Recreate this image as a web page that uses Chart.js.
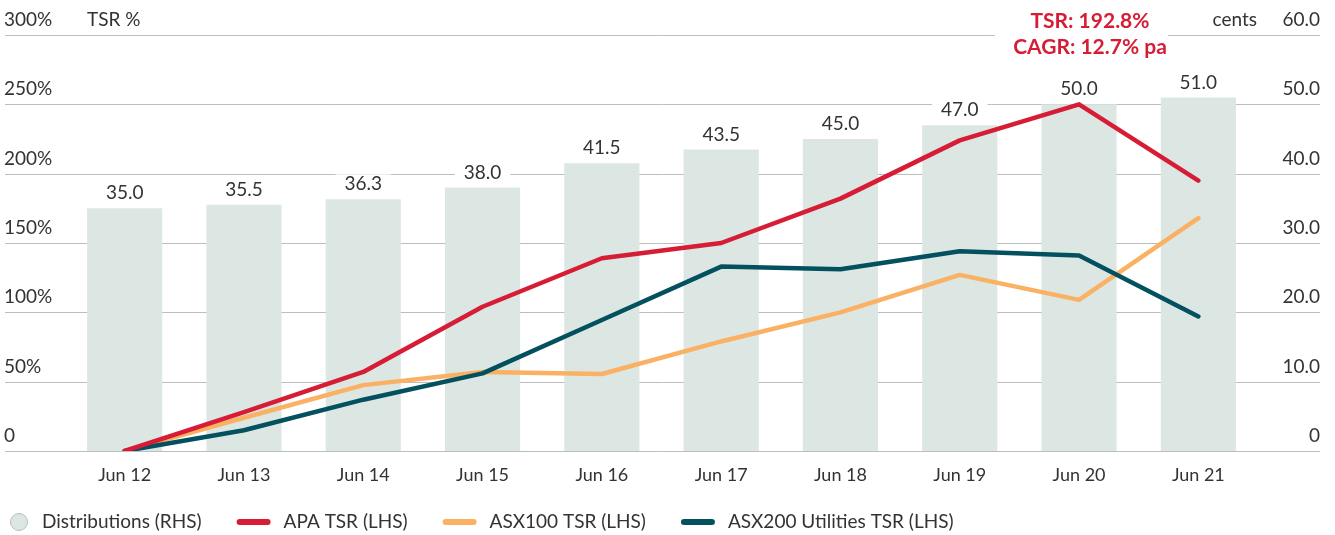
<!DOCTYPE html>
<html>
<head>
<meta charset="utf-8">
<script src="https://cdn.jsdelivr.net/npm/chart.js@4/dist/chart.umd.min.js"></script>
<style>
  html, body { margin: 0; padding: 0; background: #fff; }
  #wrap { width: 1335px; height: 535px; position: relative; }
</style>
</head>
<body>
<div id="wrap"><canvas id="tsrChart"></canvas></div>
<script>
const categories = ["Jun 12", "Jun 13", "Jun 14", "Jun 15", "Jun 16", "Jun 17", "Jun 18", "Jun 19", "Jun 20", "Jun 21"];
const distributions = [35.0, 35.5, 36.3, 38.0, 41.5, 43.5, 45.0, 47.0, 50.0, 51.0];
const apaTsr = [0, 28, 57, 104, 139, 150, 182, 224, 250, 195];
const asx100Tsr = [0, 24, 47.5, 57, 55.5, 79, 100, 127, 109, 168];
const asx200UtilitiesTsr = [0, 15, 37, 56, 94.5, 133, 131, 144, 141, 97];

const leftTicks = [0, 50, 100, 150, 200, 250, 300];
const leftTickLabels = ["0", "50%", "100%", "150%", "200%", "250%", "300%"];
const rightTicks = [0, 10, 20, 30, 40, 50, 60];
const rightTickLabels = ["0", "10.0", "20.0", "30.0", "40.0", "50.0", "60.0"];

const TEXT = "#333333";
const GRID = "#bdbdbd";
const RED = "#d71c35";
const ORANGE = "#fbb163";
const TEAL = "#03505e";
const BAR = "#dce7e4";
const FONT = "Lato, 'Open Sans', sans-serif";

const decorPlugin = {
    id: "decor",
    beforeDatasetsDraw(chart) {
        const { ctx, scales } = chart;
        const yL = scales.y;
        const yR = scales.y1;
        ctx.save();

        // full-width grid lines
        ctx.strokeStyle = GRID;
        ctx.lineWidth = 1;
        leftTicks.forEach((v) => {
            const py = Math.round(yL.getPixelForValue(v)) + 0.5;
            ctx.beginPath();
            ctx.moveTo(5, py);
            ctx.lineTo(1320, py);
            ctx.stroke();
        });

        // tick labels sit above their lines
        ctx.font = "19px " + FONT;
        ctx.fillStyle = TEXT;
        ctx.textBaseline = "middle";
        ctx.textAlign = "left";
        leftTicks.forEach((v, i) => {
            ctx.fillText(leftTickLabels[i], 4, yL.getPixelForValue(v) - 15);
        });
        ctx.textAlign = "right";
        rightTicks.forEach((v, i) => {
            ctx.fillText(rightTickLabels[i], 1320, yR.getPixelForValue(v) - 15);
        });
        const topY = yL.getPixelForValue(300);
        ctx.textAlign = "left";
        ctx.fillText("TSR %", 87, topY - 15);
        ctx.textAlign = "right";
        ctx.fillText("cents", 1257, topY - 15);

        // TSR / CAGR call-out
        ctx.fillStyle = "#fff";
        ctx.fillRect(995, topY - 8, 173, 16);
        ctx.fillStyle = RED;
        ctx.font = "bold 21px " + FONT;
        ctx.textAlign = "center";
        ctx.fillText("TSR: 192.8%", 1090, topY - 14);
        ctx.fillText("CAGR: 12.7% pa", 1090, topY + 12);

        // bar value labels
        const meta = chart.getDatasetMeta(3);
        ctx.font = "19px " + FONT;
        meta.data.forEach((bar, i) => {
            const label = distributions[i].toFixed(1);
            const w = ctx.measureText(label).width;
            const ly = bar.y - 15;
            ctx.fillStyle = "#fff";
            ctx.fillRect(bar.x - w / 2 - 9, ly - 10, w + 18, 20);
            ctx.fillStyle = TEXT;
            ctx.fillText(label, bar.x, ly);
        });
        ctx.restore();
    },
    afterDraw(chart) {
        const { ctx } = chart;
        const ds = chart.data.datasets;
        const legendOrder = [3, 0, 1, 2];
        const y = 522;
        let x = 10;
        ctx.save();
        ctx.font = "19px " + FONT;
        ctx.textBaseline = "middle";
        ctx.textAlign = "left";
        legendOrder.forEach((idx) => {
            const d = ds[idx];
            let tx;
            if (d.type === "bar") {
                ctx.beginPath();
                ctx.arc(x + 9, y, 8.5, 0, Math.PI * 2);
                ctx.fillStyle = BAR;
                ctx.fill();
                ctx.strokeStyle = "#b5bfbc";
                ctx.lineWidth = 1;
                ctx.stroke();
                tx = x + 32;
            } else {
                ctx.beginPath();
                ctx.moveTo(x + 3, y);
                ctx.lineTo(x + 31, y);
                ctx.strokeStyle = d.borderColor;
                ctx.lineWidth = 6;
                ctx.lineCap = "round";
                ctx.stroke();
                tx = x + 47;
            }
            ctx.fillStyle = TEXT;
            ctx.fillText(d.label, tx, y);
            x = tx + ctx.measureText(d.label).width + 35;
        });
        ctx.restore();
    }
};

const lineStyle = {
    type: "line",
    yAxisID: "y",
    borderWidth: 4.5,
    pointRadius: 0,
    tension: 0,
    borderJoinStyle: "round",
    borderCapStyle: "round",
    fill: false
};

new Chart(document.getElementById("tsrChart"), {
    data: {
        labels: categories,
        datasets: [
            { ...lineStyle, label: "APA TSR (LHS)", data: apaTsr, borderColor: RED, order: 1 },
            { ...lineStyle, label: "ASX100 TSR (LHS)", data: asx100Tsr, borderColor: ORANGE, order: 3 },
            { ...lineStyle, label: "ASX200 Utilities TSR (LHS)", data: asx200UtilitiesTsr, borderColor: TEAL, order: 2 },
            {
                type: "bar",
                label: "Distributions (RHS)",
                data: distributions,
                backgroundColor: BAR,
                yAxisID: "y1",
                barPercentage: 0.63,
                categoryPercentage: 1,
                order: 4
            }
        ]
    },
    options: {
        responsive: true,
        maintainAspectRatio: false,
        animation: false,
        layout: { padding: { left: 65, right: 77, top: 35, bottom: 0 } },
        plugins: {
            legend: { display: false },
            tooltip: { enabled: false }
        },
        scales: {
            x: {
                grid: { display: false, drawTicks: false },
                border: { display: false },
                ticks: {
                    color: TEXT,
                    font: { family: FONT, size: 18 },
                    padding: 13,
                    maxRotation: 0,
                    autoSkip: false
                },
                afterFit(scale) {
                    scale.height = 84;
                }
            },
            y: { display: false, min: 0, max: 300 },
            y1: { display: false, min: 0, max: 60 }
        }
    },
    plugins: [decorPlugin]
});
</script>
</body>
</html>
